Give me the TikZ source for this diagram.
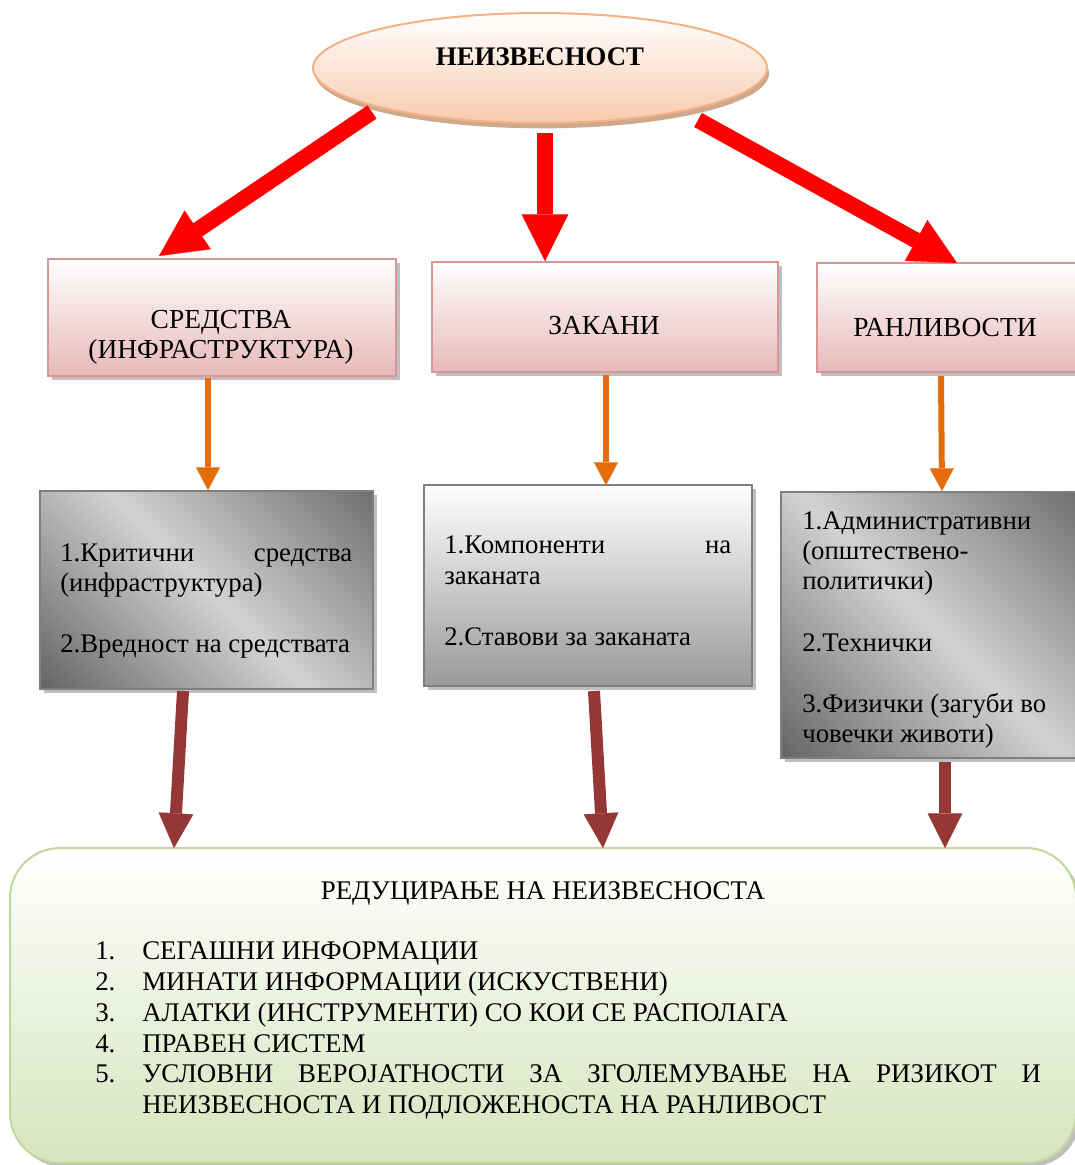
\documentclass[tikz,border=0pt]{standalone}
\usepackage{fontspec}
\setmainfont{Liberation Serif}
\usetikzlibrary{arrows.meta,shapes.geometric,shadows}
\definecolor{peachline}{HTML}{F4B183}
\definecolor{peachfill}{HTML}{F8CBAD}
\definecolor{peachshadow}{HTML}{C9A080}
\definecolor{pinkline}{HTML}{D99694}
\definecolor{pinkfill}{HTML}{E6B9B8}
\definecolor{grayline}{HTML}{7F7F7F}
\definecolor{gdarkA}{HTML}{5C5C5C}
\definecolor{gdarkB}{HTML}{686868}
\definecolor{graylight}{HTML}{D2D2D2}
\definecolor{graybot}{HTML}{999999}
\definecolor{greenline}{HTML}{C3D69B}
\definecolor{greenfill}{HTML}{D7E4BD}
\definecolor{arrred}{HTML}{FF0000}
\definecolor{arrorange}{HTML}{E46C0A}
\definecolor{arrbrown}{HTML}{953735}
\pgfdeclareverticalshading{gdiagshade}{100bp}{color(0bp)=(gdarkA); color(12bp)=(gdarkA); color(50bp)=(graylight); color(88bp)=(gdarkB); color(100bp)=(gdarkB)}
\begin{document}
\begin{tikzpicture}[x=0.75pt,y=-0.75pt,
  txt/.style={inner sep=0pt, font=\fontsize{20.1}{23}\selectfont},
  captxt/.style={inner sep=0pt, font=\fontsize{20.6}{23}\selectfont},
  bottxt/.style={inner sep=0pt, font=\fontsize{20.2}{23}\selectfont},
  boxshadow/.style={drop shadow={shadow xshift=3pt, shadow yshift=-3pt, fill=black!50, opacity=0.5}},
  ellbox/.style={ellipse, draw=peachline, line width=1.5pt, top color=white, bottom color=peachfill,
     drop shadow={shadow xshift=1.5pt, shadow yshift=-4pt, fill=peachshadow, opacity=0.9}},
  pinkbox/.style={draw=pinkline, line width=1.5pt, top color=white, bottom color=pinkfill, boxshadow, inner sep=0pt},
  graydiag/.style={draw=grayline, line width=1.5pt, shade, shading=gdiagshade, shading angle=-45, boxshadow, inner sep=0pt},
  grayvert/.style={draw=grayline, line width=1.5pt, top color=white, bottom color=graybot, boxshadow, inner sep=0pt},
  greenbox/.style={draw=greenline, line width=1.5pt, rounded corners=37.5pt, top color=white, bottom color=greenfill, boxshadow, inner sep=0pt},
  redarr/.style={draw=arrred, line width=12pt, -{Triangle[length=35pt,width=35pt,line width=0.1pt]}},
  orangearr/.style={draw=arrorange, line width=4.5pt, -{Triangle[length=17pt,width=18pt,line width=0.1pt]}},
  brownarr/.style={draw=arrbrown, line width=9pt, -{Triangle[length=26pt,width=26pt,line width=0.1pt]}}
]
\useasboundingbox (0,0) rectangle (1075,1165);
\clip (0,0) rectangle (1075,1165);

% top ellipse
\node[ellbox, minimum width=340.5pt, minimum height=82.5pt] (ell) at (540,68) {};
\node[txt, anchor=base] (elltxt) at (540,65) {\bfseries НЕИЗВЕСНОСТ};

% pink boxes
\node[pinkbox, minimum width=261pt, minimum height=87.75pt] (p1) at (222,317.5) {};
\node[pinkbox, minimum width=259.5pt, minimum height=82.5pt] (p2) at (605,317) {};
\node[pinkbox, minimum width=195.75pt, minimum height=81.75pt] (p3) at (947.5,317.5) {};
\node[captxt, anchor=base] (p1a) at (221,328) {СРЕДСТВА};
\node[captxt, anchor=base] (p1b) at (221,358) {(ИНФРАСТРУКТУРА)};
\node[captxt, anchor=base] (p2a) at (604,334) {ЗАКАНИ};
\node[captxt, anchor=base] (p3a) at (945,336) {РАНЛИВОСТИ};

% gray boxes
\node[graydiag, minimum width=249.75pt, minimum height=148.5pt] (g1) at (206.5,590) {};
\node[grayvert, minimum width=246pt, minimum height=150.75pt] (g2) at (588,585.5) {};
\node[graydiag, minimum width=224.25pt, minimum height=199.5pt] (g3) at (930.5,625) {};

\node[txt, anchor=base west] (g1a) at (60,561) {\hbox to 219pt{1.Критични\hfill средства}};
\node[txt, anchor=base west] (g1b) at (60,591) {(инфраструктура)};
\node[txt, anchor=base west] (g1c) at (60,652) {2.Вредност на средствата};

\node[txt, anchor=base west] (g2a) at (444,553) {\hbox to 215.25pt{1.Компоненти\hfill на}};
\node[txt, anchor=base west] (g2b) at (444,584) {заканата};
\node[txt, anchor=base west] (g2c) at (444,645) {2.Ставови за заканата};

\node[txt, anchor=base west] (g3a) at (802,529) {1.Административни};
\node[txt, anchor=base west] (g3b) at (802,559) {(општествено-};
\node[txt, anchor=base west] (g3c) at (802,589) {политички)};
\node[txt, anchor=base west] (g3d) at (802,651) {2.Технички};
\node[txt, anchor=base west] (g3e) at (802,712) {3.Физички (загуби во};
\node[txt, anchor=base west] (g3f) at (802,742) {човечки животи)};

% bottom box
\node[greenbox, minimum width=799.5pt, minimum height=236.25pt] (bot) at (543,1005.5) {};
\node[bottxt, anchor=base] (bt) at (543,899) {РЕДУЦИРАЊЕ НА НЕИЗВЕСНОСТА};
\node[bottxt, anchor=base west] (n1) at (95,959) {1.};
\node[bottxt, anchor=base west] (n2) at (95,990) {2.};
\node[bottxt, anchor=base west] (n3) at (95,1021) {3.};
\node[bottxt, anchor=base west] (n4) at (95,1052) {4.};
\node[bottxt, anchor=base west] (n5) at (95,1082) {5.};
\node[bottxt, anchor=base west] (i1) at (142,959) {СЕГАШНИ ИНФОРМАЦИИ};
\node[bottxt, anchor=base west] (i2) at (142,990) {МИНАТИ ИНФОРМАЦИИ (ИСКУСТВЕНИ)};
\node[bottxt, anchor=base west] (i3) at (142,1021) {АЛАТКИ (ИНСТРУМЕНТИ) СО КОИ СЕ РАСПОЛАГА};
\node[bottxt, anchor=base west] (i4) at (142,1052) {ПРАВЕН СИСТЕМ};
\node[bottxt, anchor=base west] (i5a) at (142,1082) {\hbox to 674.25pt{УСЛОВНИ\hfill ВЕРОЈАТНОСТИ\hfill ЗА\hfill ЗГОЛЕМУВАЊЕ\hfill НА\hfill РИЗИКОТ\hfill И}};
\node[bottxt, anchor=base west] (i5b) at (142,1113) {НЕИЗВЕСНОСТА И ПОДЛОЖЕНОСТА НА РАНЛИВОСТ};

% arrow end points
\coordinate (r1s) at (372,112);
\coordinate (r1e) at (159,256);
\coordinate (r2s) at (545,133);
\coordinate (r2e) at (545,261);
\coordinate (r3s) at (698,120);
\coordinate (r3e) at (957,263);
\coordinate (o1s) at (208,378);
\coordinate (o1e) at (208,490);
\coordinate (o2s) at (606,375);
\coordinate (o2e) at (606,485);
\coordinate (o3s) at (941,376);
\coordinate (o3e) at (942,491);
\coordinate (b1s) at (183,691);
\coordinate (b1e) at (174,848);
\coordinate (b2s) at (594,691);
\coordinate (b2e) at (603,848);
\coordinate (b3s) at (945,762);
\coordinate (b3e) at (945,848);

\draw[redarr] (r1s) -- (r1e);
\draw[redarr] (r2s) -- (r2e);
\draw[redarr] (r3s) -- (r3e);
\draw[orangearr] (o1s) -- (o1e);
\draw[orangearr] (o2s) -- (o2e);
\draw[orangearr] (o3s) -- (o3e);
\draw[brownarr] (b1s) -- (b1e);
\draw[brownarr] (b2s) -- (b2e);
\draw[brownarr] (b3s) -- (b3e);
\end{tikzpicture}
\end{document}
